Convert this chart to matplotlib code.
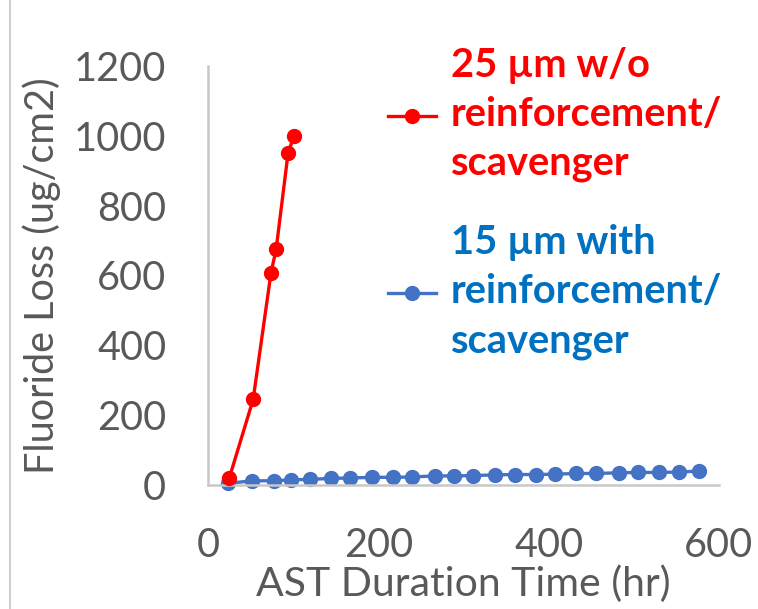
import matplotlib
matplotlib.use("Agg")
import matplotlib.pyplot as plt
from matplotlib.lines import Line2D

plt.rcParams['font.family'] = ['Lato', 'DejaVu Sans']

# Data
red_x = [25, 53, 74, 80, 94, 101]
red_y = [20, 245, 608, 675, 950, 1000]

blue_x = [24, 52, 77, 98, 120, 144, 167, 193, 217, 240, 266, 289, 311, 337,
          360, 385, 407, 432, 456, 482, 505, 529, 553, 576]
blue_y = [5, 12, 12, 15, 16, 19, 20, 22, 22, 23, 26, 26, 27, 29,
          30, 30, 31, 33, 33, 35, 36, 36, 37, 40]

red_label = "25 µm w/o\nreinforcement/\nscavenger"
blue_label = "15 µm with\nreinforcement/\nscavenger"
x_ticks = [0, 200, 400, 600]
y_ticks = [0, 200, 400, 600, 800, 1000, 1200]

W, H = 758, 609
fig = plt.figure(figsize=(W / 100, H / 100), dpi=100)
ax = fig.add_axes([208 / W, 1 - 485 / H, (719 - 208) / W, (485 - 66) / H])

l1, = ax.plot(red_x, red_y, color='#FF0000', lw=2.4, marker='o', ms=10,
              label=red_label, zorder=3)
l2, = ax.plot(blue_x, blue_y, color='#4472C4', lw=2.4, marker='o', ms=10,
              label=blue_label, zorder=2)

ax.set_xlim(0, 600)
ax.set_ylim(0, 1200)
ax.set_xticks(x_ticks)
ax.set_yticks(y_ticks)
ax.tick_params(length=0, labelsize=28.5, labelcolor='#595959', pad=30)
for s in ['top', 'right']:
    ax.spines[s].set_visible(False)
for s in ['left', 'bottom']:
    ax.spines[s].set_color('#C8C8C8')
    ax.spines[s].set_linewidth(1.8)
for sp in ax.spines.values():
    sp.set_clip_on(False)
for ln in (l1, l2):
    ln.set_clip_on(False)

ax.set_xlabel("AST Duration Time (hr)", fontsize=29.5, color='#595959', labelpad=1)
ax.set_ylabel("Fluoride Loss (ug/cm2)", fontsize=28.5, color='#595959', labelpad=9)

leg = fig.legend(handles=[l1, l2], loc='upper left',
                 bbox_to_anchor=(388 / W, 1 - 47 / H),
                 frameon=False, handlelength=1.2,
                 handletextpad=0.38, labelspacing=1.05, borderpad=0,
                 borderaxespad=0, prop={'weight': 'bold', 'size': 28.7})
leg.get_texts()[0].set_color('#FF0000')
leg.get_texts()[1].set_color('#0070C0')
for t in leg.get_texts():
    t.set_linespacing(1.4)

# thin border line at left edge of image
fig.add_artist(Line2D([10 / W, 10 / W], [0, 1], transform=fig.transFigure,
                      color='#D0D0D0', lw=1.5))

fig.savefig('out.png', dpi=100)
